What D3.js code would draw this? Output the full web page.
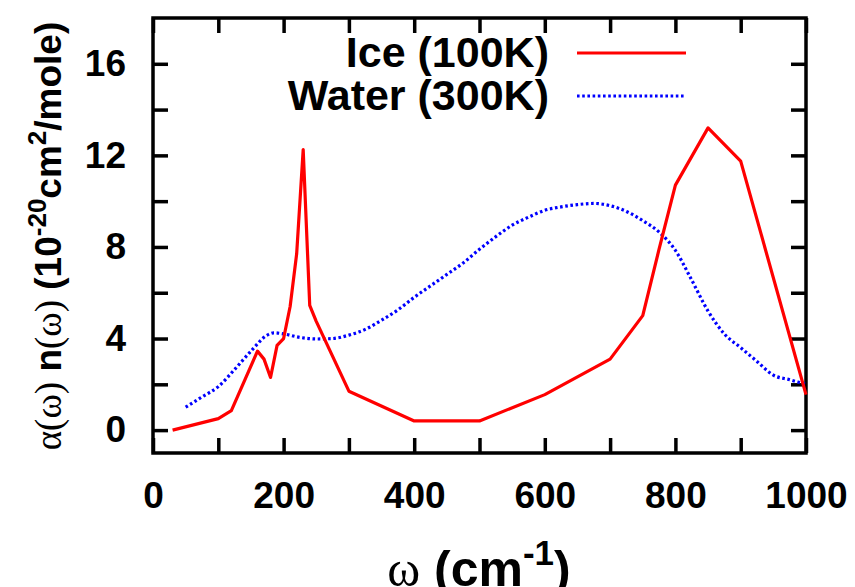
<!DOCTYPE html>
<html>
<head>
<meta charset="utf-8">
<script src="https://cdn.jsdelivr.net/npm/d3@7"></script>
<style>
body { margin: 0; background: #fff; }
text { font-family: "Liberation Sans", Arial, sans-serif; font-weight: bold; fill: #000; }
.sym { font-family: "Liberation Serif", "Times New Roman", serif; font-weight: normal; }
</style>
</head>
<body>
<svg id="chart" width="855" height="587"></svg>
<script>
// Ice at 100K, red solid
var iceX = [30, 100, 120, 160, 170, 180, 190, 200, 210, 220, 230, 240, 250, 300, 400, 500, 600, 700, 750, 775, 800, 850, 900, 1000];
var iceY = [0.0, 0.5, 0.85, 3.45, 3.1, 2.3, 3.7, 4.0, 5.4, 7.7, 12.25, 5.45, 4.75, 1.7, 0.4, 0.4, 1.55, 3.1, 5.0, 7.9, 10.7, 13.2, 11.75, 1.55];

// Water at 300K, blue dotted
var waterX = [50, 75, 100, 125, 150, 175, 185, 200, 225, 250, 275, 300, 325, 350, 375, 400, 425, 450, 475, 500, 525, 550, 575, 600, 625, 650, 675, 700, 725, 750, 775, 800, 825, 850, 875, 900, 925, 950, 975, 1000];
var waterY = [1.0, 1.45, 1.9, 2.65, 3.45, 4.15, 4.25, 4.2, 4.05, 3.98, 4.0, 4.15, 4.4, 4.8, 5.25, 5.8, 6.3, 6.8, 7.3, 7.9, 8.45, 8.95, 9.3, 9.6, 9.75, 9.85, 9.9, 9.8, 9.55, 9.15, 8.65, 7.85, 6.55, 5.2, 4.2, 3.6, 3.0, 2.4, 2.2, 2.0];

var xTicks = [0, 100, 200, 300, 400, 500, 600, 700, 800, 900, 1000];
var xLabels = [0, 200, 400, 600, 800, 1000];
var yTicks = [0, 2, 4, 6, 8, 10, 12, 14, 16];
var yLabels = [0, 4, 8, 12, 16];

var seriesNames = ["Ice (100K)", "Water (300K)"];

var svg = d3.select("#chart");
var pl = 153, pr = 806, pt = 18, pb = 453;

var x = d3.scaleLinear().domain([0, 1000]).range([pl, pr]);
var y = d3.scaleLinear().domain([-1, 18]).range([pb, pt]);

var tickLen = 15;

function fmt(list) {
	return function(d) { return list.indexOf(d) >= 0 ? d : ""; };
}

var gb = svg.append("g").attr("transform", "translate(0," + pb + ")")
	.call(d3.axisBottom(x).tickValues(xTicks).tickFormat(fmt(xLabels)).tickSizeInner(-tickLen).tickSizeOuter(0).tickPadding(29));
var gt = svg.append("g").attr("transform", "translate(0," + pt + ")")
	.call(d3.axisTop(x).tickValues(xTicks).tickFormat("").tickSizeInner(-tickLen).tickSizeOuter(0));
var gl = svg.append("g").attr("transform", "translate(" + pl + ",0)")
	.call(d3.axisLeft(y).tickValues(yTicks).tickFormat(fmt(yLabels)).tickSizeInner(-tickLen).tickSizeOuter(0).tickPadding(27));
var gr = svg.append("g").attr("transform", "translate(" + pr + ",0)")
	.call(d3.axisRight(y).tickValues(yTicks).tickFormat("").tickSizeInner(-tickLen).tickSizeOuter(0));

[gb, gt, gl, gr].forEach(function(g) {
	g.select(".domain").remove();
	g.selectAll(".tick line").attr("stroke", "#000").attr("stroke-width", 3.5);
	g.selectAll(".tick text").attr("font-size", 37).attr("font-family", "Liberation Sans, Arial, sans-serif").attr("font-weight", "bold");
});

// frame
svg.append("rect")
	.attr("x", pl).attr("y", pt)
	.attr("width", pr - pl).attr("height", pb - pt)
	.attr("fill", "none").attr("stroke", "#000").attr("stroke-width", 3.5);

var line = d3.line().x(function(d) { return x(d[0]); }).y(function(d) { return y(d[1]); });

var ice = iceX.map(function(v, i) { return [v, iceY[i]]; });
var water = waterX.map(function(v, i) { return [v, waterY[i]]; });

svg.append("path").datum(water)
	.attr("d", line.curve(d3.curveMonotoneX))
	.attr("fill", "none").attr("stroke", "#0000ff").attr("stroke-width", 3.2)
	.attr("stroke-dasharray", "2.6 2.6");

svg.append("path").datum(ice)
	.attr("d", line.curve(d3.curveLinear))
	.attr("fill", "none").attr("stroke", "#ff0000").attr("stroke-width", 3.2)
	.attr("stroke-linejoin", "round");

// legend
var legY = [53, 96];
var legStroke = [{c: "#ff0000", dash: null}, {c: "#0000ff", dash: "2.6 2.6"}];
seriesNames.forEach(function(name, i) {
	svg.append("text").attr("x", 549).attr("y", legY[i] + 14)
		.attr("text-anchor", "end").attr("font-size", 43).text(name);
	svg.append("line").attr("x1", 577).attr("x2", 686).attr("y1", legY[i]).attr("y2", legY[i])
		.attr("stroke", legStroke[i].c).attr("stroke-width", 3.2)
		.attr("stroke-dasharray", legStroke[i].dash);
});

// y label
var yl = svg.append("text").attr("transform", "translate(61,236) rotate(-90)")
	.attr("text-anchor", "middle").attr("font-size", 37);
yl.append("tspan").attr("class", "sym").text("\u03b1(\u03c9)");
yl.append("tspan").text(" n");
yl.append("tspan").attr("class", "sym").text("(\u03c9)");
yl.append("tspan").text(" (10");
yl.append("tspan").attr("font-size", 26).attr("dy", -15).text("-20");
yl.append("tspan").attr("dy", 15).text("cm");
yl.append("tspan").attr("font-size", 26).attr("dy", -15).text("2");
yl.append("tspan").attr("dy", 15).text("/mole)");

// x label
var xl = svg.append("text").attr("x", 479).attr("y", 586)
	.attr("text-anchor", "middle").attr("font-size", 50);
xl.append("tspan").attr("class", "sym").text("\u03c9");
xl.append("tspan").text(" (cm");
xl.append("tspan").attr("font-size", 35).attr("dy", -21).text("-1");
xl.append("tspan").attr("dy", 21).text(")");
</script>
</body>
</html>
